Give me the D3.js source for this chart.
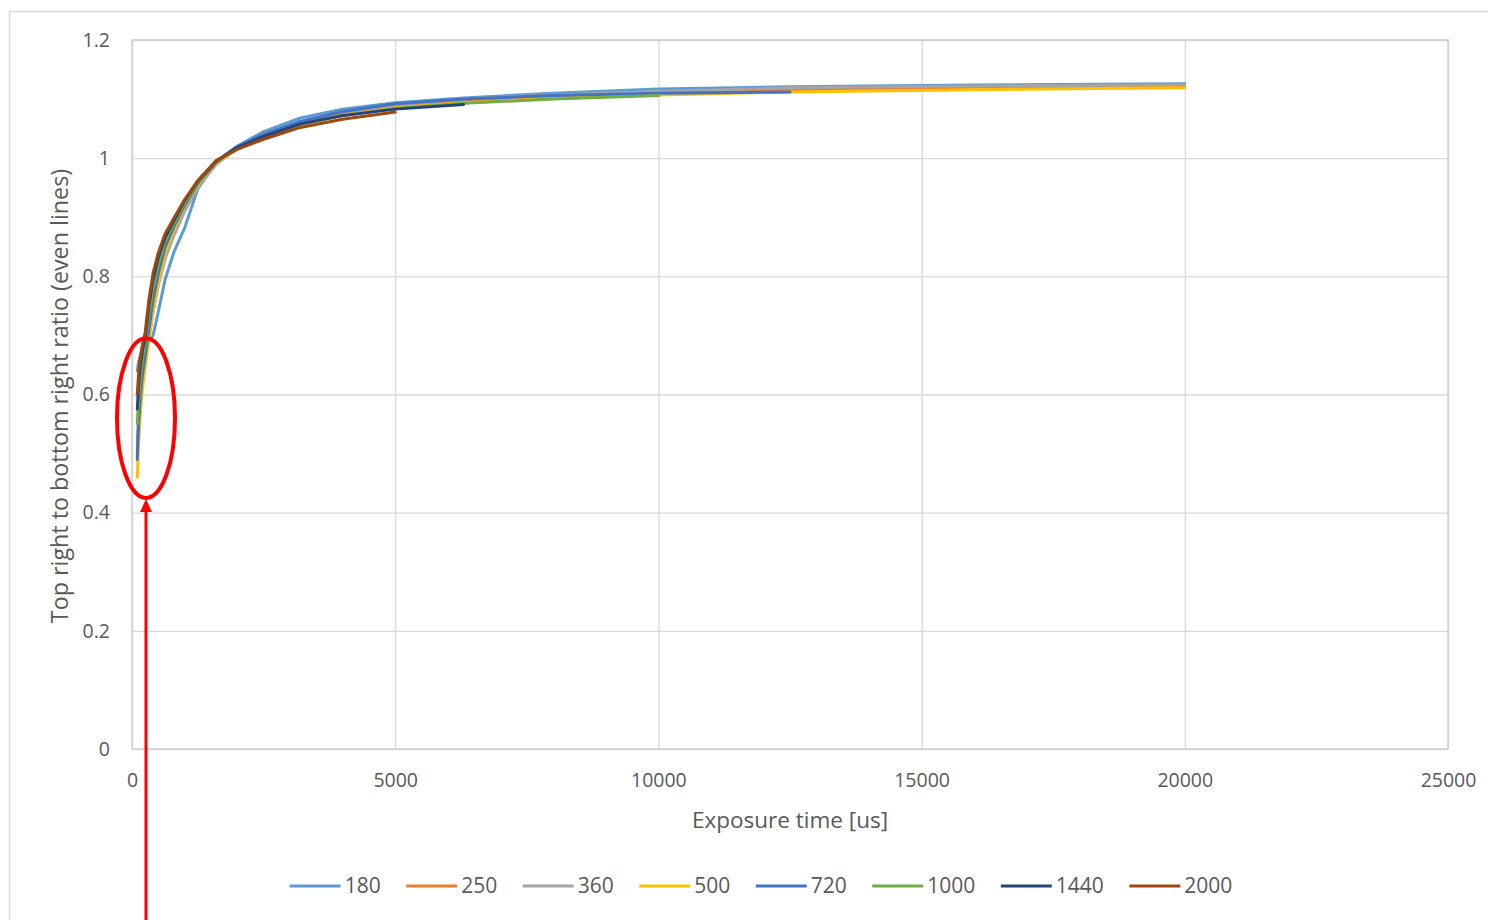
<!DOCTYPE html>
<html>
<head>
<meta charset="utf-8">
<script src="https://cdn.jsdelivr.net/npm/d3@7"></script>
<style>
body{margin:0;background:#fff;}
text{font-family:"Open Sans","Noto Sans",sans-serif;fill:#595959;}
</style>
</head>
<body>
<svg id="chart"></svg>
<script>
// exposure times [us] (same grid for every series, shorter series stop earlier)
var times=[100,125,160,200,250,320,400,500,630,800,1000,1250,1600,2000,2500,3200,4000,5000,6300,8000,10000,12500,16000,20000];
var seriesNames=["180","250","360","500","720","1000","1440","2000"];
var colors=["#5B9BD5","#ED7D31","#A5A5A5","#FFC000","#4472C4","#70AD47","#264478","#9E480E"];
var s180=[0.64,0.655,0.665,0.675,0.685,0.69,0.70,0.74,0.795,0.842,0.882,0.948,0.995,1.02,1.045,1.068,1.083,1.094,1.102,1.11,1.117,1.121,1.124,1.126];
var s250=[0.52,0.56,0.60,0.63,0.66,0.70,0.745,0.79,0.835,0.873,0.912,0.952,0.99,1.017,1.038,1.06,1.076,1.088,1.097,1.104,1.11,1.116,1.12,1.122];
var s360=[0.50,0.55,0.59,0.625,0.655,0.695,0.74,0.785,0.83,0.87,0.91,0.95,0.99,1.018,1.04,1.062,1.078,1.09,1.1,1.107,1.113,1.119,1.122,1.124];
var s500=[0.46,0.52,0.57,0.61,0.645,0.69,0.74,0.79,0.84,0.88,0.918,0.955,0.992,1.016,1.036,1.057,1.072,1.085,1.094,1.101,1.107,1.112,1.116,1.119];
var s720=[0.49,0.55,0.60,0.635,0.665,0.71,0.76,0.805,0.85,0.885,0.92,0.957,0.993,1.02,1.04,1.062,1.079,1.092,1.1,1.106,1.11,1.112];
var s1000=[0.55,0.59,0.63,0.66,0.685,0.735,0.78,0.82,0.86,0.89,0.924,0.959,0.993,1.017,1.036,1.057,1.072,1.084,1.093,1.1,1.106];
var s1440=[0.575,0.615,0.65,0.675,0.695,0.75,0.795,0.832,0.866,0.895,0.928,0.961,0.995,1.018,1.037,1.058,1.072,1.083,1.091];
var s2000=[0.60,0.635,0.665,0.685,0.705,0.76,0.805,0.84,0.872,0.899,0.93,0.962,0.996,1.015,1.032,1.052,1.066,1.078];
var seriesValues=[s180,s250,s360,s500,s720,s1000,s1440,s2000];
var xTicks=[0,5000,10000,15000,20000,25000];
var yTicks=[0,0.2,0.4,0.6,0.8,1,1.2];
// annotation (red ellipse + arrow) in data units
var markCenter=[266,0.56];
var markRadius=[551,0.135];
var arrowTip=0.423;

var W=1488,H=920;
var margin={left:132,right:40,top:40,bottom:171};
var pw=W-margin.left-margin.right;
var ph=H-margin.top-margin.bottom;

var svg=d3.select("#chart").attr("width",W).attr("height",H);

svg.append("rect")
   .attr("x",9.5).attr("y",11.5)
   .attr("width",W+20).attr("height",H+20)
   .attr("fill","#fff").attr("stroke","#d9d9d9").attr("stroke-width",1.5);

var xScale=d3.scaleLinear().domain([0,25000]).range([margin.left,margin.left+pw]);
var yScale=d3.scaleLinear().domain([0,1.2]).range([margin.top+ph,margin.top]);

var yAxis=d3.axisLeft(yScale).tickValues(yTicks).tickSize(-pw).tickPadding(22)
            .tickFormat(function(d){return d3.format("")(+d.toFixed(1));});
var gy=svg.append("g")
   .attr("transform","translate("+margin.left+",0)")
   .call(yAxis);
gy.select(".domain").remove();
gy.selectAll("line").attr("stroke","#d9d9d9").attr("stroke-width",1.3);
gy.selectAll("text").style("font-size","19.5px").attr("fill","#595959");

var xAxis=d3.axisBottom(xScale).tickValues(xTicks).tickSize(-ph).tickPadding(24)
            .tickFormat(d3.format("d"));
var gx=svg.append("g")
   .attr("transform","translate(0,"+(margin.top+ph)+")")
   .call(xAxis);
gx.select(".domain").remove();
gx.selectAll("line").attr("stroke","#d9d9d9").attr("stroke-width",1.3);
gx.selectAll("text").style("font-size","19.5px").attr("fill","#595959");

svg.append("rect")
   .attr("x",margin.left).attr("y",margin.top)
   .attr("width",pw).attr("height",ph)
   .attr("fill","none").attr("stroke","#d0d0d0").attr("stroke-width",1.5);

var line=d3.line()
   .x(function(d){return xScale(d.t);})
   .y(function(d){return yScale(d.v);});

seriesValues.forEach(function(vals,i){
  var pts=vals.map(function(v,j){return {t:times[j],v:v};});
  svg.append("path")
     .datum(pts)
     .attr("d",line)
     .attr("fill","none")
     .attr("stroke",colors[i])
     .attr("stroke-width",3)
     .attr("stroke-linejoin","round")
     .attr("stroke-linecap","round");
});

// axis titles
svg.append("text")
   .attr("transform","translate(60,396) rotate(-90)")
   .attr("text-anchor","middle")
   .attr("dy","0.35em")
   .style("font-size","23.3px")
   .text("Top right to bottom right ratio (even lines)");
svg.append("text")
   .attr("x",790)
   .attr("y",820)
   .attr("dy","0.35em")
   .attr("text-anchor","middle")
   .style("font-size","22.5px")
   .text("Exposure time [us]");

// legend
var legend=svg.append("g");
var items=legend.selectAll("g").data(seriesNames).enter().append("g");
items.append("line")
     .attr("x1",0).attr("x2",51).attr("y1",886).attr("y2",886)
     .attr("stroke",function(d,i){return colors[i];})
     .attr("stroke-width",3);
items.append("text")
     .attr("x",55).attr("y",886)
     .attr("dy","0.35em")
     .style("font-size","21px")
     .text(function(d){return d;});
var lx=0;
items.each(function(){
  var len=d3.select(this).select("text").node().getComputedTextLength();
  d3.select(this).attr("transform","translate("+lx+",0)");
  lx+=55+len+25.5;
});
lx-=25.5;
legend.attr("transform","translate("+(761-lx/2)+",0)");

// red annotation
var cx=xScale(markCenter[0]),cy=yScale(markCenter[1]);
svg.append("ellipse")
   .attr("cx",cx).attr("cy",cy)
   .attr("rx",xScale(markCenter[0]+markRadius[0])-cx)
   .attr("ry",cy-yScale(markCenter[1]+markRadius[1]))
   .attr("fill","none").attr("stroke","#ff0000").attr("stroke-width",4);
var tipY=yScale(arrowTip);
svg.append("line")
   .attr("x1",cx).attr("x2",cx).attr("y1",H).attr("y2",tipY+10)
   .attr("stroke","#ff0000").attr("stroke-width",3);
svg.append("path")
   .attr("d","M"+cx+","+tipY+"L"+(cx-6)+","+(tipY+13)+"L"+(cx+6)+","+(tipY+13)+"Z")
   .attr("fill","#ff0000");
</script>
</body>
</html>
